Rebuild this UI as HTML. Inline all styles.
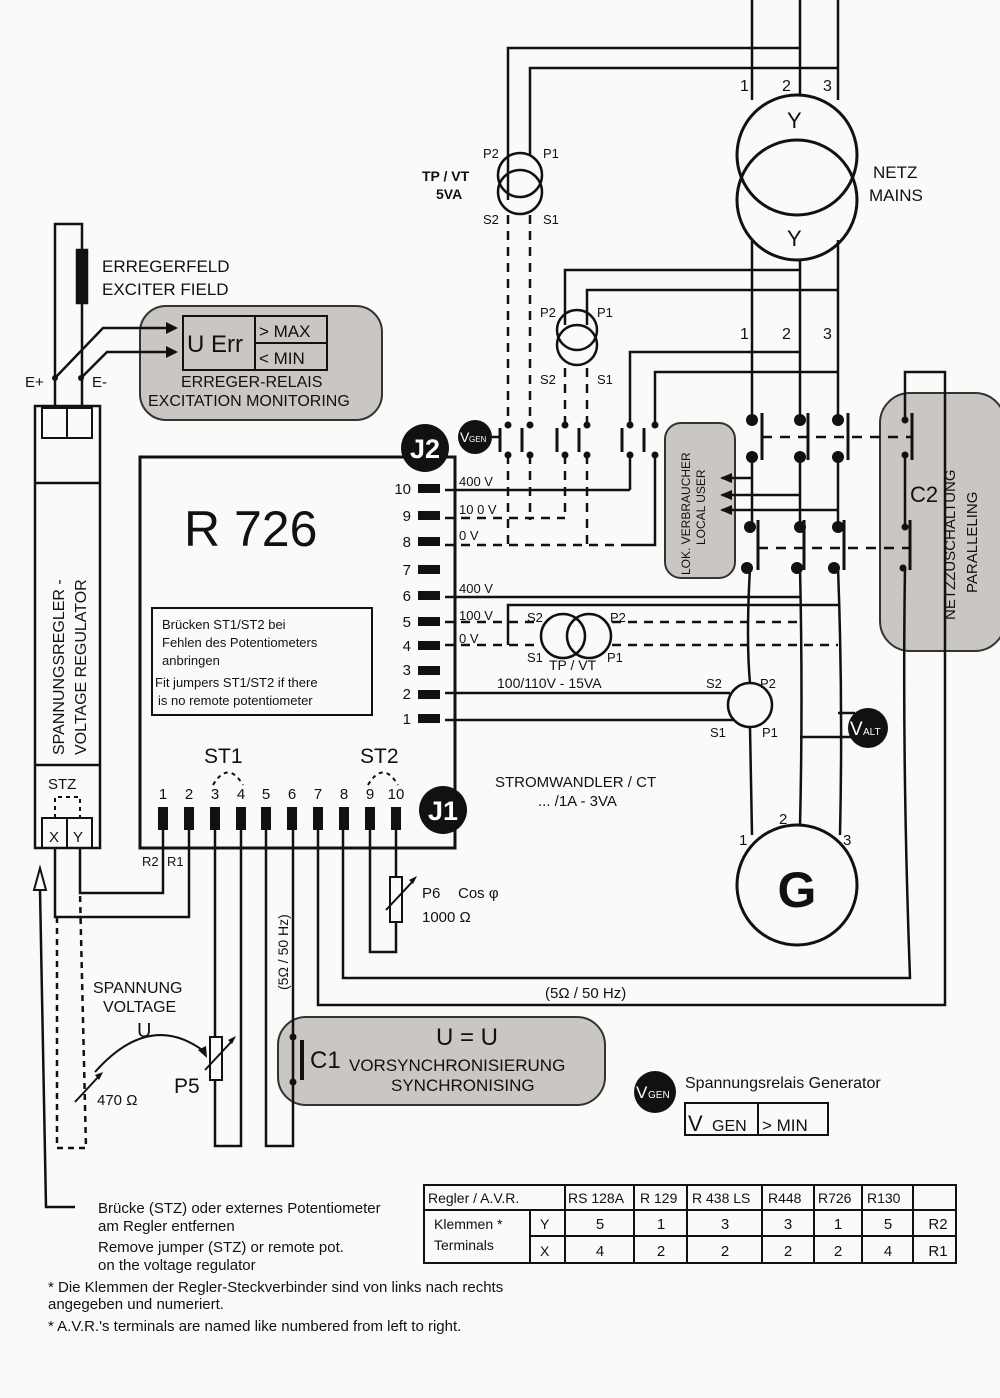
<!DOCTYPE html>
<html><head><meta charset="utf-8"><style>
html,body{margin:0;padding:0;background:#fafaf8}
svg{display:block}
text{font-family:"Liberation Sans",Arial,sans-serif;fill:#111}
text.w{fill:#fff}
</style></head><body>
<svg width="1000" height="1398" viewBox="0 0 1000 1398" xmlns="http://www.w3.org/2000/svg">
<rect width="1000" height="1398" fill="#fafaf8"/>
<g stroke="#111" stroke-width="2.5" fill="none">
<!-- gray boxes -->
<rect x="140" y="306" width="242" height="114" rx="26" fill="#c9c6c4" stroke="#333" stroke-width="2"/>
<rect x="665" y="423" width="70" height="155" rx="16" fill="#c9c6c4" stroke="#333" stroke-width="2"/>
<rect x="880" y="393" width="125" height="258" rx="30" fill="#c9c6c4" stroke="#333" stroke-width="2"/>
<rect x="278" y="1017" width="327" height="88" rx="28" fill="#c9c6c4" stroke="#333" stroke-width="2"/>

<!-- mains lines -->
<line x1="752" y1="0" x2="752" y2="100"/>
<line x1="800" y1="0" x2="800" y2="95"/>
<line x1="838" y1="0" x2="838" y2="100"/>
<polyline points="508,200 508,48 800,48"/>
<polyline points="530,155 530,68 838,68"/>
<circle cx="797" cy="155" r="60" stroke-width="3"/>
<circle cx="797" cy="200" r="60" stroke-width="3"/>
<circle cx="520" cy="175" r="22"/>
<circle cx="520" cy="192" r="22"/>
<line x1="752" y1="240" x2="752" y2="420"/>
<line x1="800" y1="260" x2="800" y2="420"/>
<line x1="838" y1="240" x2="838" y2="420"/>
<polyline points="565,325 565,270 800,270"/>
<polyline points="587,325 587,290 838,290"/>
<circle cx="577" cy="330" r="20"/>
<circle cx="577" cy="345" r="20"/>
<polyline points="630,425 630,352 800,352"/>
<polyline points="655,425 655,372 838,372"/>

<!-- dashed lines from VTs -->
<g stroke-dasharray="9,7">
<line x1="508" y1="215" x2="508" y2="425"/>
<line x1="530" y1="215" x2="530" y2="425"/>
<line x1="565" y1="368" x2="565" y2="425"/>
<line x1="587" y1="368" x2="587" y2="425"/>
<line x1="508" y1="455" x2="508" y2="545"/>
<line x1="530" y1="455" x2="530" y2="520"/>
<line x1="565" y1="455" x2="565" y2="518"/>
<line x1="587" y1="455" x2="587" y2="545"/>
<line x1="445" y1="518" x2="565" y2="518"/>
<line x1="445" y1="545" x2="630" y2="545"/>
</g>
<line x1="445" y1="490" x2="630" y2="490"/>
<polyline points="630,455 630,490"/>
<polyline points="630,545 655,545 655,455"/>
<!-- small switch row -->
<g stroke-width="3">
<line x1="500" y1="428" x2="500" y2="452"/><line x1="522" y1="428" x2="522" y2="452"/>
<line x1="557" y1="428" x2="557" y2="452"/><line x1="579" y1="428" x2="579" y2="452"/>
<line x1="622" y1="428" x2="622" y2="452"/><line x1="644" y1="428" x2="644" y2="452"/>
</g>
<line x1="492" y1="437" x2="500" y2="437"/>

<!-- main contactors -->
<g stroke-width="3">
<line x1="762" y1="413" x2="762" y2="460"/><line x1="808" y1="413" x2="808" y2="460"/><line x1="848" y1="413" x2="848" y2="460"/>
<line x1="758" y1="520" x2="758" y2="570"/><line x1="804" y1="520" x2="804" y2="570"/><line x1="844" y1="520" x2="844" y2="570"/>
<line x1="912" y1="413" x2="912" y2="460"/><line x1="910" y1="520" x2="910" y2="570"/>
</g>
<g stroke-dasharray="10,8">
<line x1="762" y1="437" x2="912" y2="437"/>
<line x1="758" y1="548" x2="910" y2="548"/>
</g>
<line x1="752" y1="457" x2="752" y2="527"/>
<line x1="800" y1="457" x2="800" y2="527"/>
<line x1="838" y1="457" x2="838" y2="527"/>
<line x1="752" y1="478" x2="722" y2="478"/>
<line x1="800" y1="495" x2="722" y2="495"/>
<line x1="838" y1="510" x2="722" y2="510"/>
<!-- down to G -->
<path d="M750 568 Q746 640 750 683"/>
<line x1="750" y1="727" x2="752" y2="835"/>
<path d="M800 568 Q803 700 800 826"/>
<path d="M838 568 Q843 700 840 835"/>
<!-- C2 lines -->
<polyline points="905,420 905,372 945,372 945,1005 318,1005 318,830"/>
<line x1="905" y1="455" x2="905" y2="527"/>
<path d="M905 568 Q902 760 910 978 L343 978 L343 830"/>

<!-- R726 lines 6,5,4 -->
<line x1="445" y1="597" x2="800" y2="597"/>
<polyline points="508,645 508,605 838,605"/>
<g stroke-dasharray="9,7">
<line x1="445" y1="622" x2="538" y2="622"/>
<line x1="612" y1="622" x2="800" y2="622"/>
<line x1="445" y1="645" x2="538" y2="645"/>
<line x1="612" y1="645" x2="838" y2="645"/>
</g>
<circle cx="563" cy="636" r="22"/>
<circle cx="589" cy="636" r="22"/>
<line x1="445" y1="693" x2="730" y2="693"/>
<line x1="445" y1="720" x2="735" y2="720"/>
<circle cx="750" cy="705" r="22"/>
<line x1="838" y1="713" x2="855" y2="713"/>
<line x1="800" y1="737" x2="855" y2="737"/>
<circle cx="797" cy="885" r="60" stroke-width="3"/>

<!-- R726 box -->
<rect x="140" y="457" width="315" height="391" stroke-width="3"/>
<rect x="152" y="608" width="220" height="107" stroke-width="2"/>

<!-- exciter -->
<polyline points="55,405 55,224 82,224 82,405"/>
<rect x="77" y="250" width="10" height="53" fill="#111"/>
<polyline points="55,378 103,328 170,328"/>
<polyline points="81,378 107,352 170,352"/>
<rect x="183" y="316" width="72" height="54" stroke-width="2"/>
<rect x="255" y="316" width="72" height="27" stroke-width="2"/>
<rect x="255" y="343" width="72" height="27" stroke-width="2"/>
<!-- regulator -->
<rect x="35" y="406" width="65" height="442" stroke-width="2.5"/>
<rect x="42" y="408" width="25" height="30" stroke-width="2"/>
<rect x="67" y="408" width="25" height="30" stroke-width="2"/>
<line x1="35" y1="483" x2="100" y2="483"/>
<line x1="35" y1="765" x2="100" y2="765"/>
<rect x="42" y="818" width="25" height="30" stroke-width="2"/>
<rect x="67" y="818" width="25" height="30" stroke-width="2"/>
<polyline points="55,818 55,797 80,797 80,818" stroke-dasharray="4,4" stroke-width="2"/>
<polyline points="55,848 55,917 189,917 189,830"/>
<polyline points="80,848 80,893 163,893 163,830"/>
<polyline points="57,917 57,1148 86,1148 80,893" stroke-dasharray="6,5" stroke-width="2.5"/>
<polyline points="75,1207 46,1207 40,890"/>
<!-- bottom terminal wires -->
<polyline points="215,830 215,1146 241,1146 241,830"/>
<polyline points="266,830 266,1146 293,1146 293,830"/>
<polyline points="370,830 370,952 396,952 396,830"/>
<rect x="210" y="1037" width="12" height="43" fill="#fafaf8" stroke-width="2"/>
<rect x="390" y="877" width="12" height="45" fill="#fafaf8" stroke-width="2"/>
<line x1="205" y1="1070" x2="233" y2="1040" stroke-width="2"/>
<line x1="386" y1="910" x2="414" y2="880" stroke-width="2"/>
<path d="M95 1072 Q150 1010 205 1052" stroke-width="2"/>
<line x1="75" y1="1102" x2="100" y2="1075" stroke-width="2"/>
<line x1="302" y1="1040" x2="302" y2="1080" stroke-width="4"/>
<!-- ST jumpers -->
<path d="M213 785 Q228 760 243 785" stroke-dasharray="4,4" stroke-width="2"/>
<path d="M368 785 Q383 760 398 785" stroke-dasharray="4,4" stroke-width="2"/>
<!-- legend -->
<rect x="685" y="1103" width="73" height="32" stroke-width="2"/>
<rect x="758" y="1103" width="70" height="32" stroke-width="2"/>
<!-- table -->
<g stroke-width="2">
<rect x="424" y="1185" width="532" height="78"/>
<line x1="424" y1="1210" x2="956" y2="1210"/>
<line x1="530" y1="1236" x2="956" y2="1236"/>
<line x1="530" y1="1210" x2="530" y2="1263"/>
<line x1="565" y1="1185" x2="565" y2="1263"/>
<line x1="634" y1="1185" x2="634" y2="1263"/>
<line x1="687" y1="1185" x2="687" y2="1263"/>
<line x1="762" y1="1185" x2="762" y2="1263"/>
<line x1="814" y1="1185" x2="814" y2="1263"/>
<line x1="862" y1="1185" x2="862" y2="1263"/>
<line x1="913" y1="1185" x2="913" y2="1263"/>
</g>
</g>
<!-- filled stuff -->
<g fill="#111">
<polygon points="178,328 166,322 166,334"/><polygon points="178,352 166,346 166,358"/>
<polygon points="720,478 732,473 732,483"/><polygon points="720,495 732,490 732,500"/><polygon points="720,510 732,505 732,515"/>
<polygon points="207,1058 198,1050 206,1046"/>
<polygon points="236,1036 228,1040 232,1044"/>
<polygon points="417,876 409,880 413,884"/>
<polygon points="103,1072 95,1075 99,1080"/>
<g>
<rect x="418" y="484" width="22" height="9"/><rect x="418" y="511" width="22" height="9"/><rect x="418" y="537" width="22" height="9"/><rect x="418" y="565" width="22" height="9"/><rect x="418" y="591" width="22" height="9"/><rect x="418" y="617" width="22" height="9"/><rect x="418" y="641" width="22" height="9"/><rect x="418" y="666" width="22" height="9"/><rect x="418" y="690" width="22" height="9"/><rect x="418" y="714" width="22" height="9"/>
</g>
<g>
<rect x="158" y="807" width="10" height="23"/><rect x="184" y="807" width="10" height="23"/><rect x="210" y="807" width="10" height="23"/><rect x="236" y="807" width="10" height="23"/><rect x="261" y="807" width="10" height="23"/><rect x="287" y="807" width="10" height="23"/><rect x="313" y="807" width="10" height="23"/><rect x="339" y="807" width="10" height="23"/><rect x="365" y="807" width="10" height="23"/><rect x="391" y="807" width="10" height="23"/>
</g>
<g>
<circle cx="508" cy="425" r="3.5"/><circle cx="530" cy="425" r="3.5"/><circle cx="565" cy="425" r="3.5"/><circle cx="587" cy="425" r="3.5"/><circle cx="630" cy="425" r="3.5"/><circle cx="655" cy="425" r="3.5"/>
<circle cx="508" cy="455" r="3.5"/><circle cx="530" cy="455" r="3.5"/><circle cx="565" cy="455" r="3.5"/><circle cx="587" cy="455" r="3.5"/><circle cx="630" cy="455" r="3.5"/><circle cx="655" cy="455" r="3.5"/>
<circle cx="752" cy="420" r="6"/><circle cx="800" cy="420" r="6"/><circle cx="838" cy="420" r="6"/>
<circle cx="752" cy="457" r="6"/><circle cx="800" cy="457" r="6"/><circle cx="838" cy="457" r="6"/>
<circle cx="750" cy="527" r="6"/><circle cx="800" cy="527" r="6"/><circle cx="838" cy="527" r="6"/>
<circle cx="747" cy="568" r="6"/><circle cx="797" cy="568" r="6"/><circle cx="834" cy="568" r="6"/>
<circle cx="905" cy="420" r="3.5"/><circle cx="905" cy="455" r="3.5"/><circle cx="905" cy="527" r="3.5"/><circle cx="903" cy="568" r="3.5"/>
<circle cx="55" cy="378" r="3"/><circle cx="81" cy="378" r="3"/>
<circle cx="293" cy="1037" r="3.5"/><circle cx="293" cy="1082" r="3.5"/>
</g>
<circle cx="425" cy="448" r="24"/>
<circle cx="443" cy="810" r="24"/>
<circle cx="475" cy="437" r="17"/>
<circle cx="868" cy="728" r="20"/>
<circle cx="655" cy="1092" r="21"/>
</g>
<polygon points="40,868 34,890 46,890" fill="#fafaf8" stroke="#111" stroke-width="2"/>

<!-- TEXT -->
<g font-size="16">
<text x="740" y="91">1</text><text x="782" y="91">2</text><text x="823" y="91">3</text>
<text x="740" y="339">1</text><text x="782" y="339">2</text><text x="823" y="339">3</text>
<text x="787" y="128" font-size="22">Y</text><text x="787" y="246" font-size="22">Y</text>
<text x="873" y="178" font-size="17">NETZ</text><text x="869" y="201" font-size="17">MAINS</text>
<text x="483" y="158" font-size="13">P2</text><text x="543" y="158" font-size="13">P1</text>
<text x="483" y="224" font-size="13">S2</text><text x="543" y="224" font-size="13">S1</text>
<text x="422" y="181" font-size="14" font-weight="bold">TP / VT</text><text x="436" y="199" font-size="14" font-weight="bold">5VA</text>
<text x="540" y="317" font-size="13">P2</text><text x="597" y="317" font-size="13">P1</text>
<text x="540" y="384" font-size="13">S2</text><text x="597" y="384" font-size="13">S1</text>
<text x="102" y="272" font-size="17">ERREGERFELD</text><text x="102" y="295" font-size="17">EXCITER FIELD</text>
<text x="187" y="352" font-size="24">U Err</text>
<text x="259" y="337" font-size="17">&gt; MAX</text><text x="259" y="364" font-size="17">&lt; MIN</text>
<text x="181" y="387" font-size="16">ERREGER-RELAIS</text><text x="148" y="406" font-size="16">EXCITATION MONITORING</text>
<text x="25" y="387" font-size="15">E+</text><text x="92" y="387" font-size="15">E-</text>
<text x="184" y="546" font-size="50">R 726</text>
<g font-size="15" text-anchor="end">
<text x="411" y="494">10</text><text x="411" y="521">9</text><text x="411" y="547">8</text><text x="411" y="575">7</text><text x="411" y="601">6</text><text x="411" y="627">5</text><text x="411" y="651">4</text><text x="411" y="675">3</text><text x="411" y="699">2</text><text x="411" y="724">1</text>
</g>
<g font-size="13">
<text x="459" y="486">400 V</text><text x="459" y="514">10 0 V</text><text x="459" y="540">0 V</text>
<text x="459" y="593">400 V</text><text x="459" y="620">100 V</text><text x="459" y="643">0 V</text>
<text x="527" y="622">S2</text><text x="610" y="622">P2</text><text x="527" y="662">S1</text><text x="607" y="662">P1</text>
</g>
<text x="549" y="670" font-size="14">TP / VT</text>
<text x="497" y="688" font-size="14">100/110V - 15VA</text>
<text x="706" y="688" font-size="13">S2</text><text x="760" y="688" font-size="13">P2</text>
<text x="710" y="737" font-size="13">S1</text><text x="762" y="737" font-size="13">P1</text>
<text x="495" y="787" font-size="15">STROMWANDLER / CT</text><text x="538" y="806" font-size="15">... /1A - 3VA</text>
<g font-size="13"><text x="162" y="629">Brücken ST1/ST2 bei</text><text x="162" y="647">Fehlen des Potentiometers</text><text x="162" y="665">anbringen</text><text x="155" y="687">Fit jumpers ST1/ST2 if there</text><text x="158" y="705">is no remote potentiometer</text></g>
<text x="204" y="763" font-size="21">ST1</text><text x="360" y="763" font-size="21">ST2</text>
<g font-size="15" text-anchor="middle"><text x="163" y="799">1</text><text x="189" y="799">2</text><text x="215" y="799">3</text><text x="241" y="799">4</text><text x="266" y="799">5</text><text x="292" y="799">6</text><text x="318" y="799">7</text><text x="344" y="799">8</text><text x="370" y="799">9</text><text x="396" y="799">10</text></g>
<text x="142" y="866" font-size="13">R2</text><text x="167" y="866" font-size="13">R1</text>
<text x="48" y="789" font-size="15">STZ</text>
<text x="49" y="842" font-size="15">X</text><text x="73" y="842" font-size="15">Y</text>
<text transform="translate(64,755) rotate(-90)" font-size="16">SPANNUNGSREGLER -</text>
<text transform="translate(86,755) rotate(-90)" font-size="16">VOLTAGE REGULATOR</text>
<text transform="translate(690,575) rotate(-90)" font-size="12">LOK. VERBRAUCHER</text>
<text transform="translate(705,545) rotate(-90)" font-size="12">LOCAL USER</text>
<text transform="translate(955,620) rotate(-90)" font-size="15">NETZZUSCHALTUNG</text>
<text transform="translate(977,593) rotate(-90)" font-size="15">PARALLELING</text>
<text x="910" y="502" font-size="22">C2</text>
<text x="422" y="898" font-size="15">P6</text><text x="458" y="898" font-size="15">Cos φ</text>
<text x="422" y="922" font-size="15">1000 Ω</text>
<text transform="translate(288,990) rotate(-90)" font-size="14">(5Ω / 50 Hz)</text>
<text x="545" y="998" font-size="15">(5Ω / 50 Hz)</text>
<text x="739" y="845" font-size="15">1</text><text x="779" y="824" font-size="15">2</text><text x="843" y="845" font-size="15">3</text>
<text x="797" y="907" font-size="50" font-weight="bold" text-anchor="middle">G</text>
<text x="93" y="993" font-size="16">SPANNUNG</text><text x="103" y="1012" font-size="16">VOLTAGE</text>
<text x="137" y="1037" font-size="20">U</text>
<text x="97" y="1105" font-size="15">470 Ω</text>
<text x="174" y="1093" font-size="21">P5</text>
<text x="436" y="1045" font-size="24">U = U</text>
<text x="310" y="1068" font-size="24">C1</text>
<text x="349" y="1071" font-size="17">VORSYNCHRONISIERUNG</text>
<text x="391" y="1091" font-size="17">SYNCHRONISING</text>
<text x="685" y="1088" font-size="16">Spannungsrelais Generator</text>
<text x="688" y="1131" font-size="22">V</text><text x="712" y="1131" font-size="16">GEN</text><text x="762" y="1131" font-size="17">&gt; MIN</text>
<g font-size="14">
<text x="428" y="1203">Regler / A.V.R.</text>
<text x="568" y="1203">RS 128A</text><text x="640" y="1203">R 129</text><text x="692" y="1203">R 438 LS</text><text x="768" y="1203">R448</text><text x="818" y="1203">R726</text><text x="867" y="1203">R130</text>
<text x="434" y="1229">Klemmen  *</text><text x="434" y="1250">Terminals</text>
<text x="540" y="1229">Y</text><text x="540" y="1256">X</text>
</g>
<g font-size="15" text-anchor="middle">
<text x="600" y="1229">5</text><text x="661" y="1229">1</text><text x="725" y="1229">3</text><text x="788" y="1229">3</text><text x="838" y="1229">1</text><text x="888" y="1229">5</text><text x="938" y="1229">R2</text>
<text x="600" y="1256">4</text><text x="661" y="1256">2</text><text x="725" y="1256">2</text><text x="788" y="1256">2</text><text x="838" y="1256">2</text><text x="888" y="1256">4</text><text x="938" y="1256">R1</text>
</g>
<g font-size="15">
<text x="98" y="1213">Brücke (STZ) oder externes Potentiometer</text>
<text x="98" y="1231">am Regler entfernen</text>
<text x="98" y="1252">Remove jumper (STZ) or remote pot.</text>
<text x="98" y="1270">on the voltage regulator</text>
<text x="48" y="1292">* Die Klemmen der Regler-Steckverbinder sind von links nach rechts</text>
<text x="48" y="1309">angegeben und numeriert.</text>
<text x="48" y="1331">* A.V.R.'s terminals are named like numbered from left to right.</text>
</g>
</g>
<text class="w" x="425" y="458" font-size="27" font-weight="bold" text-anchor="middle">J2</text>
<text class="w" x="443" y="820" font-size="27" font-weight="bold" text-anchor="middle">J1</text>
<text class="w" x="460" y="442" font-size="14">V</text><text class="w" x="469" y="442" font-size="8">GEN</text>
<text class="w" x="850" y="735" font-size="19">V</text><text class="w" x="863" y="735" font-size="10">ALT</text>
<text class="w" x="636" y="1098" font-size="17">V</text><text class="w" x="648" y="1098" font-size="10">GEN</text>
</svg>
</body></html>
